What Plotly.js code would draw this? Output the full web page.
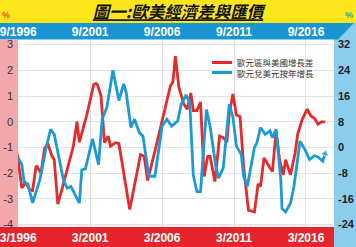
<!DOCTYPE html>
<html><head><meta charset="utf-8">
<script src="https://cdn.plot.ly/plotly-3.0.1.min.js"></script>
<style>html,body{margin:0;padding:0;background:#fff}#c{width:356px;height:247px}</style>
</head><body><div id="c"></div>
<script>
const titleText = '圖一:歐美經濟差與匯價';
const seriesNames = ['歐元區與美國增長差', '歐元兌美元按年增長'];

const redDates = ['1996-02','1996-06','1996-09','1997-01','1997-03','1997-06','1997-10','1998-01','1998-04','1998-07','1998-09','1998-12','1999-03','1999-08','2000-01','2000-04','2000-06','2000-12','2001-06','2001-08','2001-09','2001-12','2002-03','2002-06','2002-08','2002-12','2003-03','2003-12','2004-09','2004-12','2005-03','2005-10','2006-05','2006-10','2006-12','2007-02','2007-05','2007-09','2007-12','2008-03','2008-05','2008-08','2008-11','2009-02','2009-05','2009-07','2009-11','2010-03','2010-06','2010-09','2010-11','2011-02','2011-05','2011-08','2011-11','2012-03','2012-08','2012-11','2013-01','2013-04','2013-09','2013-11','2014-02','2014-05','2014-08','2014-10','2015-02','2015-06','2015-08','2015-12','2016-04','2016-07','2016-10','2017-01','2017-04','2017-07'];
const redValues = [-1.21,-2.58,-2.38,-2.66,-2.68,-1.71,-2.0,-1.02,-0.89,-1.32,-1.48,-3.21,-2.72,-1.8,-0.95,0.0,-0.8,0.23,1.45,1.48,1.44,1.02,-0.82,-0.56,-0.95,-0.82,-0.85,-3.42,-1.28,-1.35,-2.29,-0.95,0.36,1.41,1.54,2.55,1.35,0.69,0.49,1.11,0.43,0.43,0.76,-2.13,-1.35,-1.35,-2.33,-0.56,-0.62,-0.8,0.3,1.08,0.26,0.2,-1.74,-3.44,-3.51,-2.42,-2.53,-1.41,-1.8,-1.94,-0.36,-1.48,-2.07,-1.48,-2.07,-1.21,-0.49,0.1,0.49,0.23,0.13,-0.1,-0.01,-0.01];

const blueDates = ['1996-03','1996-06','1996-08','1996-11','1997-03','1997-09','1998-02','1998-06','1998-09','1999-01','1999-05','1999-08','1999-11','2000-06','2000-08','2000-11','2001-05','2001-10','2002-01','2002-05','2002-10','2003-03','2003-07','2003-09','2004-01','2004-04','2004-08','2004-11','2005-04','2005-09','2006-03','2006-07','2006-11','2007-04','2007-07','2007-11','2008-02','2008-05','2008-08','2008-11','2009-04','2009-07','2009-12','2010-02','2010-06','2010-11','2011-02','2011-05','2011-09','2011-11','2012-02','2012-08','2012-10','2013-01','2013-05','2013-09','2013-11','2014-02','2014-06','2014-07','2014-10','2015-02','2015-05','2015-10','2016-02','2016-06','2016-10','2017-01','2017-05','2017-07'];
const blueValues = [-3.3,-5.4,-11.1,-11.4,-17.3,-10.1,-0.6,5.6,4.1,-3.8,-10.6,-12.7,-12.2,-17.4,-7.0,-6.7,2.7,-5.4,8.8,12.5,24,14.6,19.8,17.2,6.2,8.8,4.6,3.5,-9.0,-9.0,6.6,8.8,6.6,8.2,13.5,16.3,14.1,-8.6,-13.8,-13.8,11.8,6.6,-6.4,-9.6,-6.4,13.5,9.4,0.4,-2.2,-9.0,-12.2,0.0,1.4,6.2,4.1,5.1,3.0,5.6,-10.1,-19.0,-20.1,-17.4,-12.2,1.9,-0.6,-3.8,-2.6,-3.0,-4.3,-1.9];

const xTickDates = ['1996-03-01','2001-03-01','2006-03-01','2011-03-01','2016-03-01'];
const bottomTickText = ['3/1996','3/2001','3/2006','3/2011','3/2016'];
const topTickText = ['9/1996','9/2001','9/2006','9/2011','9/2016'];
const leftTicks = [3,2,1,0,-1,-2,-3,-4];
const leftTickText = ['3','2','1','0','-1','-2','-3','-4'];
const rightTicks = [32,24,16,8,0,-8,-16,-24];
const rightTickText = ['32','24','16','8','0','-8','-16','-24'];

const W = 356, H = 247, L = 18, R = 334, T = 40, B = 227;
const px = x => (x - L) / (R - L);
const py = y => (B - y) / (B - T);

const RED = '#e52a2b', BLUE = '#1d9ad6';
const xRange = ['1996-02-25', '2018-02-10'];
const yRange = [-4.1, 3.18];
const y2Range = [(yRange[0] + 1) * 8, (yRange[1] + 1) * 8];

const blueSizes = blueValues.map((v, i) => i === blueValues.length - 1 ? 8 : 0);

const data = [
  {x: redDates, y: redValues, name: seriesNames[0], type: 'scatter', mode: 'lines',
   line: {color: RED, width: 2.8}, xaxis: 'x', yaxis: 'y', showlegend: false},
  {x: blueDates, y: blueValues, name: seriesNames[1], type: 'scatter', mode: 'lines+markers',
   line: {color: BLUE, width: 2.8}, marker: {color: BLUE, size: blueSizes, symbol: 'triangle-up', angleref: 'previous'},
   xaxis: 'x2', yaxis: 'y2', showlegend: false}
];

const shapes = [
  {type: 'rect', xref: 'paper', yref: 'paper', x0: px(334), x1: px(W), y0: py(H), y1: py(23), fillcolor: '#8ccdee', line: {width: 0}, layer: 'below'},
  {type: 'rect', xref: 'paper', yref: 'paper', x0: px(0), x1: px(W), y0: py(23), y1: py(0), fillcolor: '#fde51c', line: {width: 0}, layer: 'below'},
  {type: 'path', xref: 'paper', yref: 'paper', layer: 'below', fillcolor: '#1b95d2', line: {width: 0},
   path: `M ${px(0)} ${py(23)} L ${px(354)} ${py(23)} L ${px(338)} ${py(39.5)} L ${px(0)} ${py(39.5)} Z`},
  {type: 'rect', xref: 'paper', yref: 'paper', x0: px(0), x1: px(L), y0: py(B), y1: py(39.5), fillcolor: '#f3a7aa', line: {width: 0}, layer: 'below'},
  {type: 'rect', xref: 'paper', yref: 'paper', x0: px(0), x1: px(334), y0: py(H), y1: py(B), fillcolor: '#e4252b', line: {width: 0}, layer: 'below'},
  {type: 'line', xref: 'paper', yref: 'paper', x0: px(212), x1: px(232), y0: py(62.5), y1: py(62.5), line: {color: RED, width: 3}},
  {type: 'line', xref: 'paper', yref: 'paper', x0: px(212), x1: px(232), y0: py(72.5), y1: py(72.5), line: {color: BLUE, width: 3}}
];

const cjk = '"Noto Sans CJK TC", "Noto Sans CJK SC", sans-serif';
const annotations = [
  {xref: 'paper', yref: 'paper', x: px(236), y: py(62), xanchor: 'left', yanchor: 'middle', showarrow: false,
   text: seriesNames[0], font: {family: cjk, size: 8.5, color: '#333'}, borderpad: 0},
  {xref: 'paper', yref: 'paper', x: px(236), y: py(73), xanchor: 'left', yanchor: 'middle', showarrow: false,
   text: seriesNames[1], font: {family: cjk, size: 8.5, color: '#333'}, borderpad: 0},
  {xref: 'paper', yref: 'paper', x: px(6), y: py(15), xanchor: 'center', yanchor: 'middle', showarrow: false,
   text: '<b>%</b>', font: {family: 'Liberation Sans', size: 9, color: '#e8502a'}},
  {xref: 'paper', yref: 'paper', x: px(349), y: py(15), xanchor: 'center', yanchor: 'middle', showarrow: false,
   text: '<b>%</b>', font: {family: 'Liberation Sans', size: 9, color: '#1aa3c0'}}
];

const layout = {
  width: W, height: H,
  margin: {l: L, r: W - R, t: T, b: H - B, pad: 0},
  paper_bgcolor: '#ffffff', plot_bgcolor: '#ffffff',
  title: {text: '<b><i><u>' + titleText + '</u></i></b>', x: 0.5, xanchor: 'center', xref: 'container',
          y: 1 - 12.5 / H, yanchor: 'middle', yref: 'container',
          font: {family: cjk, size: 16.5, color: '#111'}},
  showlegend: false,
  xaxis: {type: 'date', range: xRange, tickvals: xTickDates, ticktext: bottomTickText,
          showgrid: true, gridcolor: '#e3e3e3', gridwidth: 1, zeroline: false, showline: false, ticks: '',
          tickfont: {family: 'Liberation Sans', size: 12, color: '#ffffff', weight: 'bold'}, ticklabelstandoff: 2,
          ticklabeloverflow: 'allow'},
  xaxis2: {type: 'date', range: xRange, overlaying: 'x', side: 'top', anchor: 'y2', tickvals: xTickDates, ticktext: topTickText,
           showgrid: false, zeroline: false, showline: false, ticks: '',
           tickfont: {family: 'Liberation Sans', size: 12, color: '#ffffff', weight: 'bold'}, ticklabelstandoff: 1,
           ticklabeloverflow: 'allow'},
  yaxis: {range: yRange, tickvals: leftTicks, ticktext: leftTickText, showgrid: true, gridcolor: '#e3e3e3', gridwidth: 1,
          zeroline: false, showline: false, ticks: '', tickfont: {family: 'Liberation Sans', size: 11, color: '#333'},
          ticklabelstandoff: 4, ticklabeloverflow: 'allow'},
  yaxis2: {range: y2Range, overlaying: 'y', side: 'right', anchor: 'x2', tickvals: rightTicks, ticktext: rightTickText,
           showgrid: false, zeroline: false, showline: false, ticks: '',
           tickfont: {family: 'Liberation Sans', size: 11, color: '#222', weight: 'bold'}, ticklabelstandoff: 3,
           ticklabeloverflow: 'allow'},
  shapes: shapes,
  annotations: annotations
};

Plotly.newPlot('c', data, layout, {staticPlot: true, displayModeBar: false});
</script>
</body></html>
